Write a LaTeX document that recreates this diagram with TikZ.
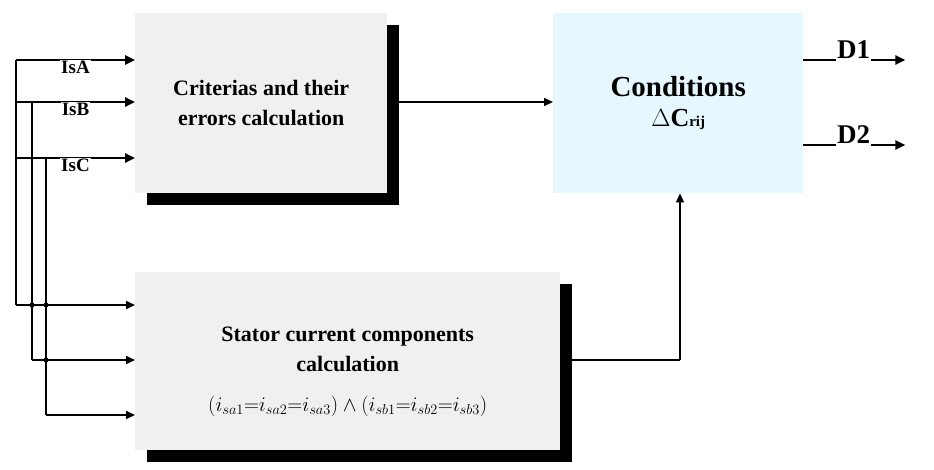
\documentclass[tikz,border=0pt]{standalone}
\usepackage{fontspec}
\setmainfont{Liberation Serif}
\usetikzlibrary{arrows.meta}
\begin{document}
\begin{tikzpicture}[x=1pt,y=-1pt,
  blk/.style={draw=none,fill=#1,minimum width=252pt,minimum height=180pt,align=center,font=\bfseries\fontsize{22}{30}\selectfont},
  sh/.style={fill=black},
  wire/.style={line width=2.4pt},
  arr/.style={line width=2.4pt,-{Triangle[length=10pt,width=9pt]}},
  thin/.style={line width=1.6pt,-{Triangle[length=9pt,width=8pt]}},
  lab/.style={font=\bfseries\fontsize{19}{21}\selectfont,fill=white,inner sep=1pt}]
\useasboundingbox (0,0) rectangle (934,469);
% shadows
\fill[sh] (147,25) rectangle (399,205);
\fill[sh] (147,284) rectangle (572,462);
\node[blk=gray!12,anchor=north west] (crit) at (135,13) {Criterias and their\\errors calculation};
\node[blk=cyan!10,anchor=north west,minimum width=250pt,font=\bfseries\fontsize{29}{34}\selectfont] (cond) at (553,13) {Conditions\\[-4pt]{\fontsize{26}{28}\selectfont$\Delta$C}{\fontsize{15}{16}\selectfont rij}};
\node[blk=gray!12,anchor=north west,minimum width=425pt,minimum height=178pt] (stat) at (135,272) {\\[6pt]Stator current components\\calculation\\[10pt]{\mdseries\fontsize{20}{22}\selectfont$(i_{sa1}{=}i_{sa2}{=}i_{sa3})\wedge(i_{sb1}{=}i_{sb2}{=}i_{sb3})$}};
% input buses
\coordinate (a0) at (16,60); \coordinate (b0) at (32,102); \coordinate (c0) at (46,158);
\draw[wire] (a0) -- (16,305); \draw[wire] (16,102) -- (b0); \draw[wire] (16,158) -- (c0);
\draw[wire] (b0) -- (32,360); \draw[wire] (32,158) -- (c0);
\draw[wire] (c0) -- (46,415);
\draw[arr] (a0) -- (crit.west |- a0) node[lab,pos=0.5,yshift=-7pt] (la) {IsA};
\draw[arr] (16,102) -- (crit.west |- b0) node[lab,pos=0.5,yshift=-7pt] (lb) {IsB};
\draw[arr] (16,158) -- (crit.west |- c0) node[lab,pos=0.5,yshift=-7pt] (lc) {IsC};
\foreach \y in {305,360,415}{\coordinate (s\y) at (stat.west |- 0,\y);}
\draw[thin] (16,305) -- (s305);
\draw[thin] (32,360) -- (s360);
\draw[thin] (46,415) -- (s415);
\foreach \p in {(32,305),(46,305),(46,360)} \fill \p circle (2.5pt);
% middle connections
\draw[thin] (crit.east |- 0,102) -- (cond.west |- 0,102);
\coordinate (k) at (680,360);
\draw[line width=1.6pt] (stat.east |- k) -- (k);
\draw[thin] (k) -- (cond.south -| k);
% outputs
\node[lab,anchor=west,font=\bfseries\fontsize{27}{30}\selectfont,fill=none] (d1) at (836,50) {D1};
\node[lab,anchor=west,font=\bfseries\fontsize{27}{30}\selectfont,fill=none] (d2) at (836,135) {D2};
\draw[wire] (cond.east |- 0,60) -- (d1.west |- 0,60);
\draw[wire] (cond.east |- 0,145) -- (d2.west |- 0,145);
\draw[arr] (d1.east |- 0,60) -- ++(34,0);
\draw[arr] (d2.east |- 0,145) -- ++(34,0);
\end{tikzpicture}
\end{document}
